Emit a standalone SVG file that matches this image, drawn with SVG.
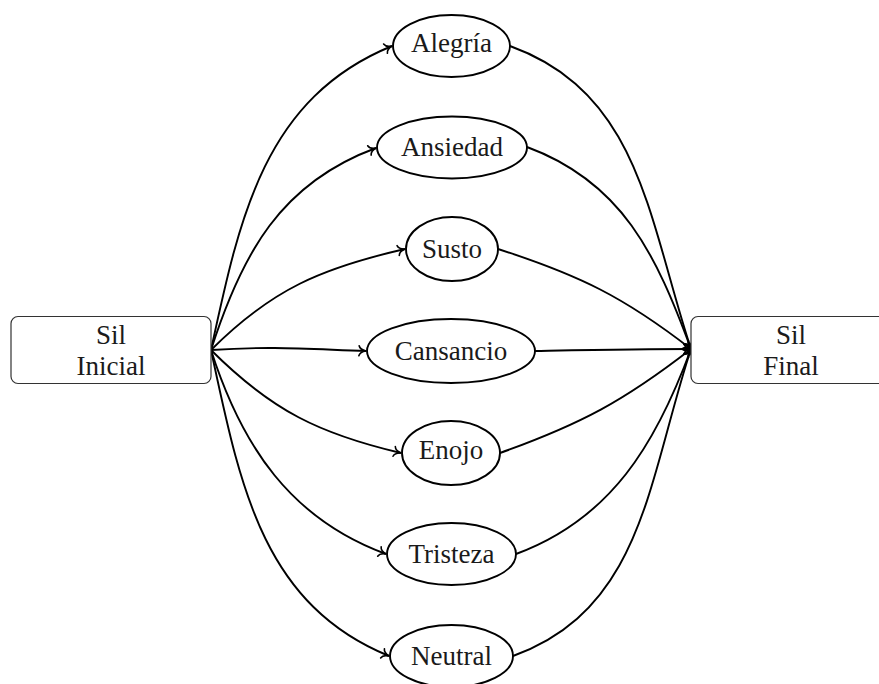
<svg xmlns="http://www.w3.org/2000/svg" width="879" height="684" viewBox="0 0 879 684">
  <style>
    .box { fill: #ffffff; stroke: #333333; stroke-width: 1.2; }
    .ell { fill: #ffffff; stroke: #000000; stroke-width: 1.9; }
    .lbl { font-family: "Liberation Serif", "Times New Roman", serif; font-size: 27px; fill: #1a1a1a; text-anchor: middle; }
    .edge { fill: none; stroke: #000000; stroke-width: 1.9; marker-end: url(#tip); }
  </style>
  <defs>
    <!-- curved open arrow tip -->
    <marker id="tip" markerUnits="userSpaceOnUse" viewBox="-9 -7 11 14" refX="0" refY="0" markerWidth="11" markerHeight="14" orient="auto" overflow="visible">
      <path d="M-7,-5 C-6.3,-2 -2.2,-0.4 0,0 C-2.2,0.4 -6.3,2 -7,5" fill="none" stroke="#000000" stroke-width="1.6" stroke-linecap="round" stroke-linejoin="round"/>
    </marker>
  </defs>

  <rect width="879" height="684" fill="#ffffff"/>

  <!-- connectors -->
  <g id="edges">
    <!-- from Sil Inicial to each state -->
    <path class="edge" d="M211,350 C240,215 265,98 392,46"/>
    <path class="edge" d="M211,350 C242,253 281,183 376,148"/>
    <path class="edge" d="M211,350 C272,289 322,268 405,249"/>
    <path class="edge" d="M211,350 C272,346 306,349 366,351"/>
    <path class="edge" d="M211,350 C272,411 320,434 401,453"/>
    <path class="edge" d="M211,350 C242,447 291,519 386,554"/>
    <path class="edge" d="M211,350 C240,485 262,604 389,656"/>
    <!-- from each state to Sil Final -->
    <path class="edge" d="M510,46 C640,93 648,218 691,349"/>
    <path class="edge" d="M527,147 C622,182 656,254 691,349"/>
    <path class="edge" d="M498,249 C579,275 624,297 691,349"/>
    <path class="edge" d="M535,351 C590,350 640,349 691,349"/>
    <path class="edge" d="M500,453 C581,424 624,401 691,349"/>
    <path class="edge" d="M516,554 C611,519 656,444 691,349"/>
    <path class="edge" d="M513,656 C643,609 648,480 691,349"/>
  </g>

  <g id="sil-inicial">
    <rect class="box" x="11" y="316.5" width="200" height="67" rx="7"/>
    <text class="lbl" x="111" y="344">Sil</text>
    <text class="lbl" x="111" y="375">Inicial</text>
  </g>

  <g id="sil-final">
    <rect class="box" x="691" y="316.5" width="200" height="67" rx="7"/>
    <text class="lbl" x="791" y="344">Sil</text>
    <text class="lbl" x="791" y="375">Final</text>
  </g>

  <g id="alegria">
    <ellipse class="ell" cx="451.5" cy="46" rx="58.5" ry="31"/>
    <text class="lbl" x="451.5" y="52">Alegría</text>
  </g>
  <g id="ansiedad">
    <ellipse class="ell" cx="452" cy="147.5" rx="75" ry="31"/>
    <text class="lbl" x="452" y="156">Ansiedad</text>
  </g>
  <g id="susto">
    <ellipse class="ell" cx="452" cy="249" rx="46" ry="32"/>
    <text class="lbl" x="452" y="257.5">Susto</text>
  </g>
  <g id="cansancio">
    <ellipse class="ell" cx="451" cy="351" rx="84" ry="32"/>
    <text class="lbl" x="451" y="359.5">Cansancio</text>
  </g>
  <g id="enojo">
    <ellipse class="ell" cx="451" cy="453" rx="49" ry="32"/>
    <text class="lbl" x="451" y="459">Enojo</text>
  </g>
  <g id="tristeza">
    <ellipse class="ell" cx="451.5" cy="554" rx="64.5" ry="31"/>
    <text class="lbl" x="451.5" y="562.5">Tristeza</text>
  </g>
  <g id="neutral">
    <ellipse class="ell" cx="451.5" cy="656" rx="61.5" ry="31"/>
    <text class="lbl" x="451.5" y="664.5">Neutral</text>
  </g>
</svg>
